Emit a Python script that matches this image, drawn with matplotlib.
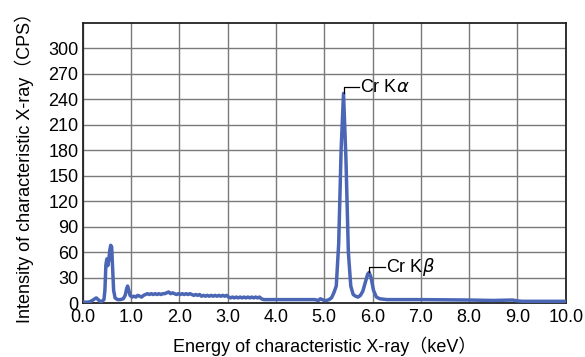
import matplotlib.pyplot as plt

plt.rcParams['font.family'] = ['Liberation Sans', 'Noto Sans CJK JP', 'DejaVu Sans']

# spectrum (keV, CPS)
energy = [0.00, 0.05, 0.10, 0.15, 0.20, 0.25, 0.28, 0.32, 0.36, 0.40, 0.44,
          0.46, 0.48, 0.50, 0.52, 0.54, 0.56, 0.58, 0.60, 0.62, 0.64, 0.67,
          0.72, 0.78, 0.84, 0.88, 0.91, 0.93, 0.95, 0.98, 1.02, 1.06, 1.10,
          1.14, 1.18, 1.22, 1.26, 1.30, 1.34, 1.38, 1.42, 1.46, 1.50, 1.54,
          1.58, 1.62, 1.66, 1.70, 1.74, 1.78, 1.82, 1.86, 1.90, 1.94, 1.98,
          2.02, 2.06, 2.10, 2.14, 2.18, 2.22, 2.26, 2.30, 2.34, 2.38, 2.42,
          2.46, 2.50, 2.54, 2.58, 2.62, 2.66, 2.70, 2.74, 2.78, 2.82, 2.86,
          2.90, 2.94, 2.98, 3.02, 3.06, 3.10, 3.14, 3.18, 3.22, 3.26, 3.30,
          3.34, 3.38, 3.42, 3.46, 3.50, 3.54, 3.58, 3.62, 3.66, 3.70, 3.75,
          3.90, 4.20, 4.50, 4.80, 4.88, 4.92, 4.96, 5.00, 5.05, 5.10, 5.15,
          5.20, 5.25, 5.30, 5.35, 5.40, 5.45, 5.50, 5.55, 5.60, 5.65, 5.70,
          5.75, 5.80, 5.85, 5.90, 5.93, 5.97, 6.02, 6.08, 6.15, 6.30, 7.00,
          8.00, 8.50, 8.90, 9.00, 9.10, 10.00]
intensity = [1, 1, 1, 1.5, 3, 5, 6, 4, 2, 2, 4,
             15, 45, 52, 44, 50, 62, 68, 66, 40, 15, 6,
             4, 4, 5, 9, 17, 20, 16, 9, 7, 8, 7,
             9, 8, 7, 9, 10, 11, 10, 11, 10, 11, 10,
             11, 10, 11, 11, 12, 13, 11, 12, 11, 10, 11,
             10, 11, 10, 11, 10, 11, 10, 9, 10, 9, 10,
             8, 9, 8, 9, 8, 9, 8, 9, 8, 9, 8,
             9, 8, 9, 7, 6, 7, 6, 7, 6, 7, 6,
             7, 6, 7, 6, 7, 6, 7, 6, 7, 5, 4,
             4, 4, 4, 4, 3, 5, 4, 3, 3, 4, 6,
             12, 20, 70, 180, 247, 170, 60, 20, 10, 8, 7,
             9, 14, 24, 34, 36, 30, 15, 7, 5, 4, 4,
             3.5, 3, 3.5, 2.5, 2, 2]

peaks = [(5.40, 247, 'Cr K$\\alpha$'), (5.93, 36, 'Cr K$\\beta$')]

fig = plt.figure(figsize=(5.85, 3.57), dpi=100)
ax = fig.add_axes([82.7 / 585, 54 / 357, 483 / 585, 280 / 357])

ax.plot(energy, intensity, color='#4a66b5', lw=2.5, solid_joinstyle='round', zorder=3)

# leader lines with labels
for x, y, txt in peaks:
    ax.plot([x, x, x + 0.33], [y, y + 7, y + 7], color='black', lw=0.9, zorder=4)
    ax.text(x + 0.34, y + 7, txt, fontsize=13, va='center', ha='left', zorder=4)

ax.set_xlim(0, 10)
ax.set_ylim(0, 330)
ax.set_xticks([i * 1.0 for i in range(11)])
ax.set_xticklabels([f'{i:.1f}' for i in range(11)])
ax.set_yticks(range(0, 301, 30))
ax.tick_params(length=0, labelsize=13)
ax.tick_params(axis='x', pad=4)
ax.tick_params(axis='y', pad=3)
ax.grid(True, color='#7a7a7a', lw=1.0)
ax.set_axisbelow(True)
for s in ax.spines.values():
    s.set_linewidth(1.3)
    s.set_color('#222222')

ax.set_xlabel('Energy of characteristic X-ray（keV）', fontsize=13, labelpad=8)
ax.set_ylabel('Intensity of characteristic X-ray（CPS）', fontsize=13, labelpad=10)

fig.savefig('out.png', dpi=100)
